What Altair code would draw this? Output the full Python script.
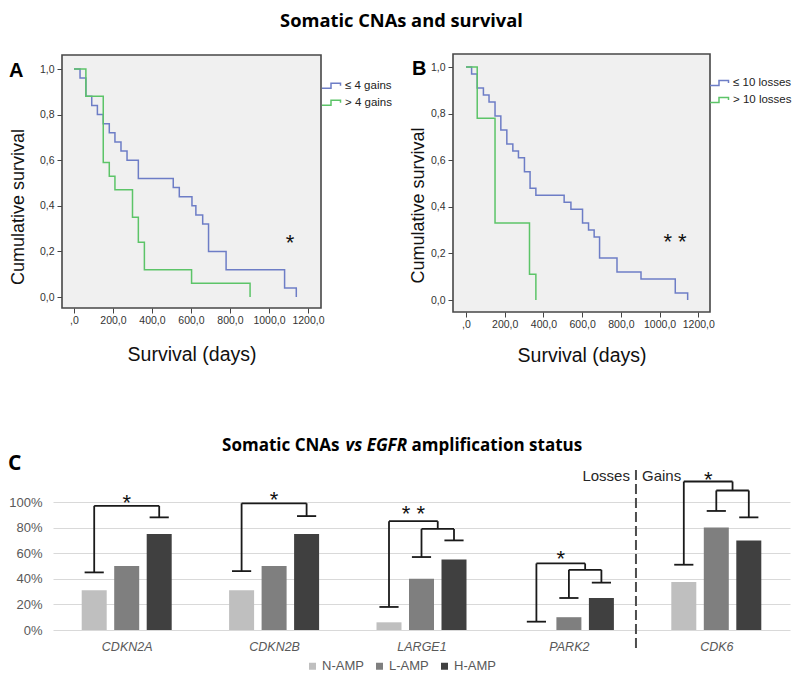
import json
import altair as alt
import pandas as pd

# ---------------- data ----------------
# Panel A: Kaplan-Meier, number of gains
a_labels = ["≤ 4 gains", "> 4 gains"]
a_low_t = [0, 31, 61, 91, 120, 150, 181, 210, 241, 272, 330, 509, 540, 605, 625, 660, 690, 780, 1080, 1140]
a_low_s = [1.0, 0.96, 0.88, 0.84, 0.80, 0.76, 0.72, 0.68, 0.64, 0.60, 0.52, 0.48, 0.44, 0.40, 0.36, 0.32, 0.20, 0.12, 0.04, 0.0]
a_high_t = [0, 61, 150, 181, 210, 300, 330, 361, 603, 903]
a_high_s = [1.0, 0.88, 0.59, 0.53, 0.47, 0.35, 0.24, 0.12, 0.06, 0.0]

# Panel B: Kaplan-Meier, number of losses
b_labels = ["≤ 10 losses", "> 10 losses"]
b_low_t = [0, 29, 58, 90, 119, 150, 180, 211, 242, 271, 302, 331, 361, 507, 542, 602, 633, 662, 690, 780, 904, 1081, 1145]
b_low_s = [1.0, 0.97, 0.91, 0.88, 0.85, 0.79, 0.73, 0.67, 0.64, 0.61, 0.55, 0.48, 0.45, 0.42, 0.39, 0.33, 0.30, 0.27, 0.18, 0.12, 0.09, 0.03, 0.0]
b_high_t = [0, 58, 150, 328, 361]
b_high_s = [1.0, 0.78, 0.33, 0.11, 0.0]

x_ticks = [0, 200, 400, 600, 800, 1000, 1200]
y_ticks = [0, 0.2, 0.4, 0.6, 0.8, 1.0]

# Panel C: CNAs vs EGFR amplification
genes = ["CDKN2A", "CDKN2B", "LARGE1", "PARK2", "CDK6"]
groups = ["N-AMP", "L-AMP", "H-AMP"]
n_amp = [0.31, 0.31, 0.06, 0.0, 0.375]
l_amp = [0.50, 0.50, 0.40, 0.10, 0.80]
h_amp = [0.75, 0.75, 0.55, 0.25, 0.70]
pct_ticks = [0, 0.2, 0.4, 0.6, 0.8, 1.0]

# significance brackets (levels in the percent scale)
br_foot_n = [0.45, 0.46, 0.18, 0.065, 0.51]
br_top = [0.97, 0.99, 0.85, 0.52, 1.16]
br_inner_top = [None, None, 0.79, 0.47, 1.09]
br_foot_l = [None, None, 0.57, 0.25, 0.93]
br_foot_h = [0.88, 0.89, 0.70, 0.37, 0.88]
br_star = ["*", "*", "* *", "*", "*"]
br_star_lvl = [1.04, 1.06, 0.95, 0.60, 1.22]

# ---------------- style / layout ----------------
W, H = 784, 666
FONT = "Liberation Sans"
TFONT = "Open Sans"
BLUE = "#6d7dc6"
GREEN = "#5cc468"
BAR_COLORS = ["#bfbfbf", "#7f7f7f", "#404040"]
STEP = "M-1,0.25H-0.1V-0.25H0.85V0"


def km_panel(curves, labels, xdom, ydom, xr, yr, star_txt, star_t, star_s,
             ytitle_x, ytitle_y, xtitle_y, leg_x, leg_y):
    xscale = alt.Scale(domain=xdom, range=xr, nice=False, zero=False)
    yscale = alt.Scale(domain=ydom, range=yr, nice=False, zero=False)
    xaxis = alt.Axis(orient="bottom", offset=yr[0] - H, values=x_ticks,
                     labelExpr="datum.value == 0 ? ',0' : datum.value + ',0'",
                     labelOverlap=False, labelFlush=False,
                     title="Survival (days)", titleFont=FONT, titleFontSize=19.5,
                     titleFontWeight="normal", titleColor="#111111",
                     titleBaseline="alphabetic", titleY=xtitle_y,
                     labelFont=FONT, labelFontSize=10.5, labelColor="#333333",
                     labelPadding=2, tickSize=5, tickColor="#444444",
                     domain=False, grid=False)
    yaxis = alt.Axis(orient="left", offset=-xr[0], values=y_ticks,
                     labelExpr="replace(format(datum.value, '.1f'), '.', ',')",
                     labelOverlap=False, labelFlush=False,
                     title="Cumulative survival", titleFont=FONT, titleFontSize=18,
                     titleFontWeight="normal", titleColor="#111111", titleAngle=270,
                     titleBaseline="alphabetic", titleAlign="center",
                     titleX=ytitle_x, titleY=ytitle_y,
                     labelFont=FONT, labelFontSize=10.5, labelColor="#333333",
                     labelPadding=3, tickSize=5, tickColor="#444444",
                     domain=False, grid=False)
    frame = pd.DataFrame({"t": [xdom[0]], "t2": [xdom[1]], "s": [ydom[0]], "s2": [ydom[1]]})
    bg = alt.Chart(frame).mark_rect(fill="#f0f0f0", stroke="#474747", strokeWidth=1.6).encode(
        x=alt.X("t:Q", scale=xscale, axis=xaxis), x2="t2:Q",
        y=alt.Y("s:Q", scale=yscale, axis=yaxis), y2="s2:Q")
    parts = []
    for (t, s), lab in zip(curves, labels):
        parts.append(pd.DataFrame({"t": t, "s": s, "g": lab}))
    km_df = pd.concat(parts, ignore_index=True)
    lines = alt.Chart(km_df).mark_line(interpolate="step-after", strokeWidth=1.5).encode(
        x=alt.X("t:Q", scale=xscale, axis=xaxis),
        y=alt.Y("s:Q", scale=yscale, axis=yaxis),
        color=alt.Color("g:N", scale=alt.Scale(domain=labels, range=[BLUE, GREEN]),
                        legend=alt.Legend(title=None, orient="none", legendX=leg_x, legendY=leg_y,
                                          symbolType=STEP, symbolSize=400, symbolStrokeWidth=1.5,
                                          symbolFillColor="transparent",
                                          labelFont=FONT, labelFontSize=11.5, labelColor="#222222",
                                          labelOffset=2, rowPadding=-9, padding=0)),
    )
    star_df = pd.DataFrame({"t": [star_t], "s": [star_s], "txt": [star_txt]})
    star = alt.Chart(star_df).mark_text(font=FONT, fontSize=22, color="#111111",
                                        baseline="middle", dy=6).encode(
        x=alt.X("t:Q", scale=xscale, axis=xaxis),
        y=alt.Y("s:Q", scale=yscale, axis=yaxis),
        text="txt:N")
    return alt.layer(bg, lines, star)


panel_a = km_panel([(a_low_t, a_low_s), (a_high_t, a_high_s)], a_labels,
                   [-61.5, 1266.7], [-0.048, 1.0614], [54, 313], [300, 47],
                   "*", 1108, 0.265, -39, 198.5, 52, 313, 66.7)
panel_b = km_panel([(b_low_t, b_low_s), (b_high_t, b_high_s)], b_labels,
                   [-67.1, 1260.4], [-0.0515, 1.0558], [445, 702], [304, 46],
                   "* *", 1080, 0.275, -30, 197, 49, 701, 64)

# ---------------- panel C ----------------
CXR = [45, 782]
CYR = [622, 494]
GOFF = 32.5 / 147.4   # group offset inside a gene band (band units)
BHW = 12.5 / 147.4    # half bar width
CAP = 0.065           # half width of bracket caps

rows = []
for i, g in enumerate(genes):
    for k, (grp, vals) in enumerate(zip(groups, [n_amp, l_amp, h_amp])):
        c = i + 0.5 + (k - 1) * GOFF
        rows.append({"gene": g, "grp": grp, "y": vals[i], "x": c - BHW, "x2": c + BHW})
bars_df = pd.DataFrame(rows)

segs = []
stars = []
for i, g in enumerate(genes):
    cN, cL, cH = [i + 0.5 + (k - 1) * GOFF for k in range(3)]
    top = br_top[i]
    segs.append((cN - CAP, br_foot_n[i], cN + CAP, br_foot_n[i]))
    segs.append((cN, br_foot_n[i], cN, top))
    if br_inner_top[i] is None:
        right = cH
        segs.append((cH - CAP, br_foot_h[i], cH + CAP, br_foot_h[i]))
        segs.append((cH, br_foot_h[i], cH, top))
    else:
        it = br_inner_top[i]
        segs += [(cL - CAP, br_foot_l[i], cL + CAP, br_foot_l[i]),
                 (cL, br_foot_l[i], cL, it),
                 (cH - CAP, br_foot_h[i], cH + CAP, br_foot_h[i]),
                 (cH, br_foot_h[i], cH, it),
                 (cL, it, cH, it)]
        right = (cL + cH) / 2
        segs.append((right, it, right, top))
    segs.append((cN, top, right, top))
    stars.append({"x": (cN + right) / 2, "y": br_star_lvl[i], "txt": br_star[i]})
seg_df = pd.DataFrame(segs, columns=["x", "y", "x2", "y2"])
star_df = pd.DataFrame(stars)

xs_c = alt.Scale(domain=[0, 5], range=CXR, nice=False, zero=False)
ys_c = alt.Scale(domain=[0, 1], range=CYR, nice=False, zero=False)
cx_axis = alt.Axis(orient="bottom", offset=CYR[0] - H,
                   values=[i + 0.5 for i in range(len(genes))],
                   labelExpr=json.dumps(genes) + "[floor(datum.value)]",
                   labelOverlap=False, labelFlush=False,
                   labelFont=FONT, labelFontSize=12.5, labelFontStyle="italic",
                   labelColor="#595959", labelPadding=10, ticks=False, tickSize=0,
                   domain=False, grid=False, title=None)
cy_axis = alt.Axis(orient="left", offset=-CXR[0], values=pct_ticks, format=".0%",
                   labelOverlap=False, labelFlush=False,
                   labelFont=FONT, labelFontSize=13, labelColor="#595959",
                   labelPadding=11, ticks=False, tickSize=0, domain=False,
                   grid=True, gridColor="#d9d9d9", gridWidth=1.2, title=None)
CX = alt.X("x:Q", scale=xs_c, axis=cx_axis)
CY = alt.Y("y:Q", scale=ys_c, axis=cy_axis)

bars = alt.Chart(bars_df).mark_bar().encode(
    x=CX, x2="x2:Q", y=CY, y2=alt.datum(0),
    color=alt.Color("grp:N", scale=alt.Scale(domain=groups, range=BAR_COLORS),
                    legend=alt.Legend(title=None, orient="none", legendX=298, legendY=651.5,
                                      direction="horizontal", symbolType="square",
                                      symbolSize=49, symbolStrokeWidth=0,
                                      labelFont=FONT, labelFontSize=13, labelColor="#595959",
                                      labelOffset=3, columnPadding=9, padding=0)),
)

brackets = alt.Chart(seg_df).mark_rule(color="#1a1a1a", strokeWidth=1.8).encode(
    x=CX, x2="x2:Q", y=CY, y2="y2:Q")

star_marks = alt.Chart(star_df).mark_text(font=FONT, fontSize=22, color="#111111",
                                          baseline="middle", dy=6).encode(
    x=CX, y=CY, text="txt:N")

divider_df = pd.DataFrame({"x": [3.955], "y": [-0.14], "y2": [1.27]})
divider = alt.Chart(divider_df).mark_rule(color="#4d4d4d", strokeWidth=2, strokeDash=[10, 4]).encode(
    x=CX, y=CY, y2="y2:Q")

side_df = pd.DataFrame({"x": [3.955], "y": [1.2]})
losses = alt.Chart(side_df).mark_text(text="Losses", font=FONT, fontSize=15, color="#262626",
                                      align="right", baseline="middle", dx=-6).encode(x=CX, y=CY)
gains = alt.Chart(side_df).mark_text(text="Gains", font=FONT, fontSize=15, color="#262626",
                                     align="left", baseline="middle", dx=6).encode(x=CX, y=CY)

panel_c = alt.layer(bars, divider, brackets, star_marks, losses, gains)

# ---------------- free texts (titles, panel letters) ----------------
one = pd.DataFrame({"k": [0]})


def label(txt, x, y, size, font=FONT, align="left", style="normal", weight="bold"):
    return alt.Chart(one).mark_text(text=txt, font=font, fontSize=size, fontWeight=weight,
                                    fontStyle=style, color="#000000", align=align,
                                    baseline="alphabetic").encode(
        x=alt.value(x), y=alt.value(y))


texts = [
    label("Somatic CNAs and survival", 393.5, 19, 18.3, TFONT, "center"),
    label("A", 1, 69, 20),
    label("B", 404, 67, 20),
    label("C", 0, 462, 21, TFONT),
    label("Somatic CNAs", 331.5, 443, 17, TFONT, "right"),
    label("vs EGFR", 337.5, 443, 17, TFONT, "left", "italic"),
    label("amplification status", 403.5, 443, 17, TFONT, "left"),
]

chart = alt.layer(panel_a, panel_b, panel_c, *texts).resolve_scale(
    x="independent", y="independent", color="independent"
).resolve_axis(x="independent", y="independent").resolve_legend(
    color="independent"
).properties(
    width=W, height=H, padding=0, background="white",
    autosize=alt.AutoSizeParams(type="none"),
).configure_view(stroke=None, fill=None)

chart.save("out.html", embed_options={"renderer": "svg", "actions": False})
